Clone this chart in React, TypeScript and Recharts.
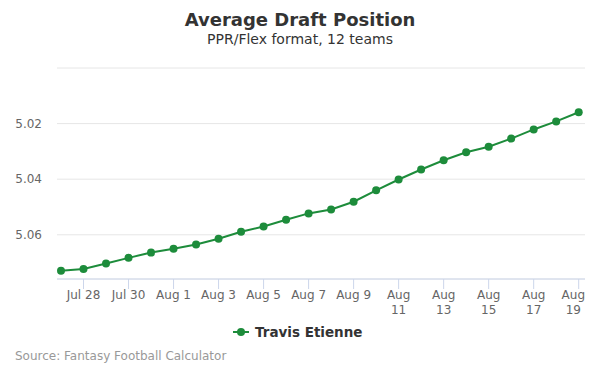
import { CartesianGrid, Line, LineChart, XAxis, YAxis } from "recharts"

const dates = [
  "Jul 27", "Jul 28", "Jul 29", "Jul 30", "Jul 31",
  "Aug 1", "Aug 2", "Aug 3", "Aug 4", "Aug 5", "Aug 6", "Aug 7", "Aug 8", "Aug 9",
  "Aug 10", "Aug 11", "Aug 12", "Aug 13", "Aug 14", "Aug 15", "Aug 16", "Aug 17", "Aug 18", "Aug 19",
]
const adp = [
  5.0729, 5.0723, 5.0703, 5.0683, 5.0664, 5.065, 5.0635, 5.0614, 5.0589, 5.057, 5.0546, 5.0523,
  5.0509, 5.0481, 5.044, 5.0401, 5.0365, 5.0332, 5.0303, 5.0283, 5.0254, 5.0221, 5.0192, 5.0159,
]
const xTicks = [1, 3, 5, 7, 9, 11, 13, 15, 17, 19, 21, 23]
const yTicks = [5.0, 5.02, 5.04, 5.06]

const data = dates.map((d, i) => ({ day: i, date: d, adp: adp[i] }))

const FONT = "'DejaVu Sans', sans-serif"
const GREEN = "#1d8c3b"
const PLOT_RIGHT = 585

function XTick(props: any) {
  const { x, y, payload } = props
  const label = dates[payload.value] ?? ""
  const [mon, day] = label.split(" ")
  const wrap = mon === "Aug" && day.length > 1
  // keep the last label inside the plot edge, like the original does
  const half = (wrap ? 3 : label.length) * 3.9
  const cx = Math.min(x, PLOT_RIGHT - half)
  return (
    <text x={cx} y={y + 10} textAnchor="middle" fill="#666" fontSize={12} fontFamily={FONT}>
      {wrap ? (
        <>
          <tspan x={cx}>{mon}</tspan>
          <tspan x={cx} dy={14.5}>{day}</tspan>
        </>
      ) : (
        label
      )}
    </text>
  )
}

export default function App() {
  return (
    <div style={{ position: "absolute", left: 0, top: 0, width: 600, height: 375, background: "#fff" }}>
      <LineChart width={600} height={375} data={data} margin={{ top: 68, right: 15, left: 0, bottom: 66 }}>
        <CartesianGrid vertical={false} stroke="#e6e6e6" />
        <XAxis
          dataKey="day"
          type="number"
          domain={[-0.178, 23.28]}
          ticks={xTicks}
          interval={0}
          height={30}
          stroke="#ccd6eb"
          tickSize={10}
          tickMargin={0}
          tick={<XTick />}
        />
        <YAxis
          reversed
          type="number"
          domain={[5.0, 5.0759]}
          ticks={yTicks}
          allowDataOverflow
          width={57}
          axisLine={false}
          tickLine={false}
          tickSize={0}
          tickMargin={15}
          tickFormatter={(v: number) => (v === 5.0 ? "" : v.toFixed(2))}
          tick={{ fill: "#666", fontSize: 12, fontFamily: FONT }}
        />
        <Line
          type="linear"
          dataKey="adp"
          stroke={GREEN}
          strokeWidth={2}
          dot={{ r: 4, fill: GREEN, stroke: GREEN, strokeWidth: 0 }}
          activeDot={false}
          isAnimationActive={false}
        />
      </LineChart>
      <svg
        width={600}
        height={375}
        style={{ position: "absolute", left: 0, top: 0, pointerEvents: "none" }}
        fontFamily={FONT}
      >
        <text x={300} y={25.5} textAnchor="middle" fontSize={18} fontWeight="bold" fill="#333">
          Average Draft Position
        </text>
        <text x={300} y={44} textAnchor="middle" fontSize={14} fill="#333">
          PPR/Flex format, 12 teams
        </text>
        <line x1={233} x2={249} y1={332} y2={332} stroke={GREEN} strokeWidth={2} />
        <circle cx={241} cy={332} r={4} fill={GREEN} />
        <text x={255} y={337} fontSize={13.5} fontWeight="bold" fill="#333">
          Travis Etienne
        </text>
        <text x={15} y={359.5} fontSize={12} fill="#999">
          Source: Fantasy Football Calculator
        </text>
      </svg>
    </div>
  )
}
